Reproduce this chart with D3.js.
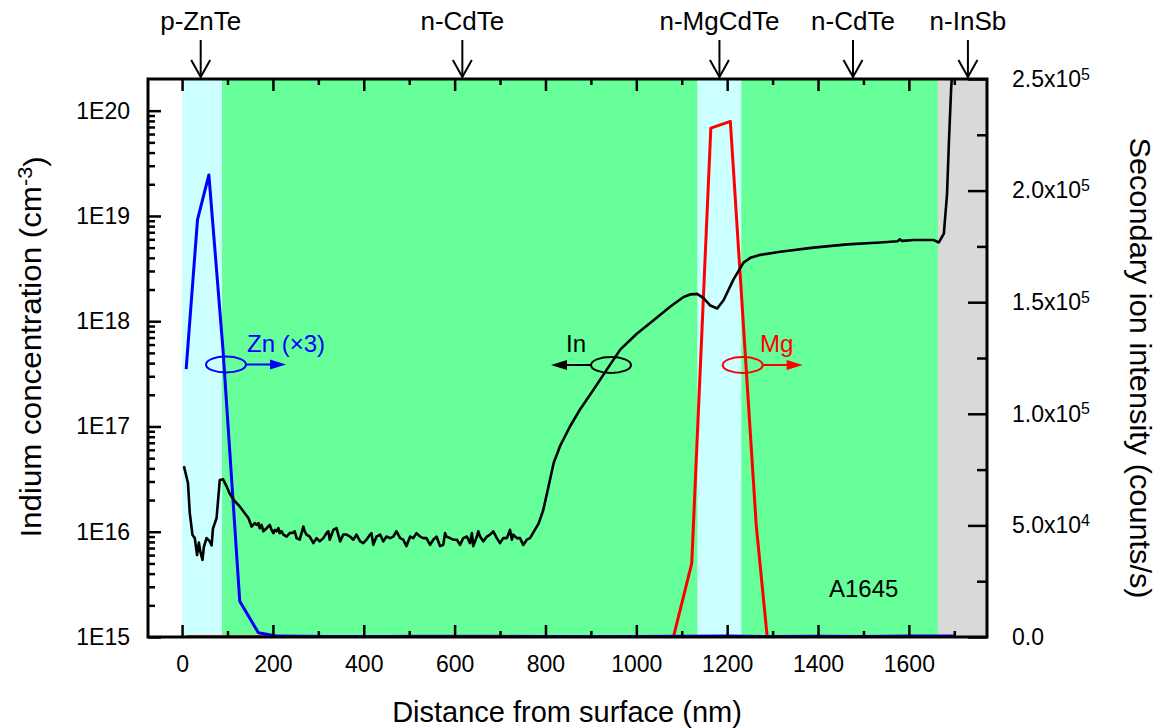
<!DOCTYPE html>
<html>
<head>
<meta charset="utf-8">
<script src="https://cdn.jsdelivr.net/npm/d3@7"></script>
<style>
  body { margin: 0; background: #fff; }
  svg text { font-family: Arial, "Liberation Sans", Helvetica, sans-serif; fill: #000; }
</style>
</head>
<body>
<svg id="chart" width="1156" height="728"></svg>
<script>
// ---- Layer stack (depth in nm) ----
const layerNames  = ["p-ZnTe", "n-CdTe", "n-MgCdTe", "n-CdTe", "n-InSb"];
const layerStart  = [0, 88, 1135, 1231, 1664];
const layerEnd    = [88, 1135, 1231, 1664, 1772];
const layerMarker = [41, 617, 1183, 1477, 1730];
const layerKind   = ["barrier", "well", "barrier", "well", "substrate"];

// ---- Indium concentration (cm^-3), left log axis ----
const inDepth = [4,13,17,23,28,33,37,40,45,48,54,61,65,68,76,83,90,98,105,116,127,138,146,153,
  160,164,168,171,175,179,186,193,197,201,204,208,212,215,219,223,230,237,245,248,252,259,267,270,274,
  281,289,296,303,311,318,322,325,333,340,348,355,362,370,377,384,392,399,406,414,417,421,428,436,443,
  450,458,465,472,480,487,494,502,509,516,524,531,538,546,553,560,568,575,579,582,590,597,605,612,619,
  627,634,638,641,649,652,656,663,671,678,685,693,700,707,715,722,726,729,737,744,751,759,766,
  785,795,806,818,832,854,876,906,935,965,1001,1038,1075,1104,1120,1134,1148,1163,1178,1192,1214,1236,
  1251,1273,1317,1390,1464,1537,1575,1580,1585,1611,1655,1666,1677,1684,1688,1693,1700];
const inConc = [4.2e16,2.9e16,1.5e16,9.3e15,8.7e15,6.0e15,7.9e15,6.5e15,5.4e15,7.2e15,8.7e15,8.1e15,7.4e15,
  1.07e16,1.35e16,3.1e16,3.16e16,2.7e16,2.3e16,1.95e16,1.74e16,1.5e16,1.35e16,1.12e16,
  1.21e16,1.16e16,1.21e16,1.08e16,1.16e16,1.01e16,1.08e16,1.16e16,1.04e16,9.7e15,1.04e16,1.01e16,1.08e16,
  9.7e15,1.01e16,9.4e15,9.0e15,9.7e15,9.8e15,1.01e16,8.7e15,8.4e15,1.12e16,1.01e16,9.4e15,
  9.0e15,7.8e15,8.7e15,8.1e15,8.7e15,9.7e15,1.01e16,8.4e15,1.04e16,1.08e16,8.1e15,9.4e15,9.4e15,9.0e15,
  8.4e15,9.4e15,8.1e15,7.8e15,8.4e15,9.4e15,9.7e15,7.5e15,9.0e15,9.4e15,8.1e15,
  9.0e15,8.7e15,9.0e15,1.01e16,8.7e15,8.4e15,7.3e15,9.0e15,8.7e15,9.7e15,9.0e15,8.7e15,8.7e15,7.5e15,
  8.4e15,9.0e15,7.3e15,7.5e15,9.7e15,9.0e15,8.7e15,8.4e15,8.4e15,7.5e15,8.7e15,
  9.0e15,7.8e15,9.7e15,7.3e15,9.0e15,1.01e16,9.0e15,8.1e15,9.0e15,9.4e15,1.01e16,8.7e15,7.8e15,8.7e15,
  8.7e15,1.04e16,8.4e15,9.4e15,8.7e15,8.7e15,7.5e15,8.4e15,8.7e15,
  1.2e16,1.6e16,2.6e16,4.5e16,6.5e16,1.0e17,1.45e17,2.24e17,3.47e17,5.4e17,7.6e17,1.02e18,1.38e18,
  1.70e18,1.80e18,1.82e18,1.66e18,1.41e18,1.32e18,1.58e18,2.5e18,3.6e18,
  4.0e18,4.27e18,4.57e18,5.0e18,5.37e18,5.6e18,5.75e18,6.0e18,5.8e18,5.9e18,5.9e18,5.6e18,6.8e18,
  1.6e19,4.8e19,1.6e20,5e20];

// ---- Zn (x3) secondary ion intensity (counts/s), right axis ----
const znDepth = [9,34,59,90,127,168,210,260,320,400,500,600,700,800,900,1000,1100,1200,1300,1400,1500,1600,1700];
const znCounts = [1.2e5,1.87e5,2.07e5,1.29e5,1.6e4,1.9e3,400,300,250,200,200,200,150,200,150,250,300,400,200,300,250,500,400];

// ---- Mg secondary ion intensity (counts/s), right axis ----
const mgDepth = [9,100,200,300,400,500,600,700,800,900,1000,1040,1082,1122,1164,1207,1264,1288,1350,1450,1550,1650,1700];
const mgCounts = [100,100,100,100,150,300,350,300,200,150,150,150,300,3.3e4,2.28e5,2.31e5,5.0e4,300,200,150,150,150,150];

// ---- Tick values ----
const xMajorTicks = [0,200,400,600,800,1000,1200,1400,1600];
const xMinorTicks = [100,300,500,700,900,1100,1300,1500,1700];
const leftMajorTicks = [1e15,1e16,1e17,1e18,1e19,1e20];
const rightMajorTicks = [0,5e4,1e5,1.5e5,2e5,2.5e5];
const rightMinorTicks = [2.5e4,7.5e4,1.25e5,1.75e5,2.25e5];

// ---- Layout ----
const L = 148, R = 987, T = 79, B = 637;
const svg = d3.select("#chart");

const x = d3.scaleLinear().domain([-75, 1772]).range([L, R]);
const yL = d3.scaleLog().domain([1e15, 2e20]).range([B, T]);
const yR = d3.scaleLinear().domain([0, 2.5e5]).range([B, T]);

const bandFill = { barrier: "#ccffff", well: "#66ff99", substrate: "#d9d9d9" };

svg.append("defs").append("clipPath").attr("id", "plotClip")
  .append("rect").attr("x", L).attr("y", T).attr("width", R - L).attr("height", B - T);

// Layer shading
svg.append("g").selectAll("rect").data(layerNames.map((n, i) => i)).join("rect")
  .attr("x", i => x(layerStart[i]))
  .attr("y", T)
  .attr("width", i => x(layerEnd[i]) - x(layerStart[i]))
  .attr("height", B - T)
  .attr("fill", i => bandFill[layerKind[i]]);

// Series
const plot = svg.append("g").attr("clip-path", "url(#plotClip)");
const lineR = d3.line().x(d => x(d[0])).y(d => yR(d[1]));
plot.append("path").datum(mgDepth.map((d, i) => [d, mgCounts[i]]))
  .attr("d", lineR).attr("fill", "none").attr("stroke", "#ff0000").attr("stroke-width", 3).attr("stroke-linejoin", "round");
plot.append("path").datum(znDepth.map((d, i) => [d, znCounts[i]]))
  .attr("d", lineR).attr("fill", "none").attr("stroke", "#0000ff").attr("stroke-width", 3).attr("stroke-linejoin", "round");
const lineL = d3.line().x(d => x(d[0])).y(d => yL(d[1]));
plot.append("path").datum(inDepth.map((d, i) => [d, inConc[i]]))
  .attr("d", lineL).attr("fill", "none").attr("stroke", "#000").attr("stroke-width", 2.6).attr("stroke-linejoin", "round");

// Axes
const tickFont = "23px";
function styleAxis(g, width) {
  g.select(".domain").remove();
  g.selectAll(".tick line").attr("stroke", "#000").attr("stroke-width", width);
  g.selectAll(".tick text").style("font-size", tickFont).attr("fill", "#000");
}
const gxB = svg.append("g").attr("transform", `translate(0,${B})`)
  .call(d3.axisBottom(x).tickValues(xMajorTicks).tickSize(-12).tickPadding(19).tickFormat(d3.format("d")));
styleAxis(gxB, 2.5);
svg.append("g").attr("transform", `translate(0,${B})`)
  .call(d3.axisBottom(x).tickValues(xMinorTicks).tickSize(-6).tickFormat("")).call(g => styleAxis(g, 2.5));
svg.append("g").attr("transform", `translate(0,${T})`)
  .call(d3.axisTop(x).tickValues(xMajorTicks).tickSize(-12).tickFormat("")).call(g => styleAxis(g, 2.5));
svg.append("g").attr("transform", `translate(0,${T})`)
  .call(d3.axisTop(x).tickValues(xMinorTicks).tickSize(-6).tickFormat("")).call(g => styleAxis(g, 2.5));

const leftMinor = [];
for (let e = 15; e <= 20; e++) for (let m = 2; m <= 9; m++) { const v = m * Math.pow(10, e); if (v < 2e20) leftMinor.push(v); }
const gyL = svg.append("g").attr("transform", `translate(${L},0)`)
  .call(d3.axisLeft(yL).tickValues(leftMajorTicks).tickSize(-13).tickPadding(18)
    .tickFormat(d => "1E" + Math.round(Math.log10(d))));
styleAxis(gyL, 2.5);
svg.append("g").attr("transform", `translate(${L},0)`)
  .call(d3.axisLeft(yL).tickValues(leftMinor).tickSize(-7).tickFormat("")).call(g => styleAxis(g, 2.5));

const gyR = svg.append("g").attr("transform", `translate(${R},0)`)
  .call(d3.axisRight(yR).tickValues(rightMajorTicks).tickSize(-19).tickPadding(25).tickFormat(""));
styleAxis(gyR, 2.5);
gyR.selectAll(".tick text").each(function (d) {
  const t = d3.select(this);
  if (d === 0) { t.text("0.0"); return; }
  const e = Math.floor(Math.log10(d) + 1e-9);
  const m = d / Math.pow(10, e);
  t.append("tspan").text(m.toFixed(1) + "x10");
  t.append("tspan").attr("dy", "-0.45em").style("font-size", "16px").text(e);
});
svg.append("g").attr("transform", `translate(${R},0)`)
  .call(d3.axisRight(yR).tickValues(rightMinorTicks).tickSize(-10).tickFormat("")).call(g => styleAxis(g, 2.5));

// Frame
svg.append("rect").attr("x", L).attr("y", T).attr("width", R - L).attr("height", B - T)
  .attr("fill", "none").attr("stroke", "#000").attr("stroke-width", 3);

// Layer labels with arrows above the frame
const layerLabels = svg.append("g");
layerNames.forEach((name, i) => {
  const px = x(layerMarker[i]);
  layerLabels.append("text").attr("x", px).attr("y", 30).attr("text-anchor", "middle").style("font-size", "26px").text(name);
  layerLabels.append("line").attr("x1", px).attr("x2", px).attr("y1", 40).attr("y2", 77).attr("stroke", "#000").attr("stroke-width", 2);
  layerLabels.append("path").attr("d", `M${px - 9.5},60 L${px},77 L${px + 9.5},60`).attr("fill", "none").attr("stroke", "#000").attr("stroke-width", 2);
});

// Series keys: ellipse around the curve plus arrow to its axis
function seriesKey(cx, cy, dir, color, label, labelX) {
  const g = svg.append("g");
  g.append("ellipse").attr("cx", cx).attr("cy", cy).attr("rx", 20).attr("ry", 8)
    .attr("fill", "none").attr("stroke", color).attr("stroke-width", 2);
  const x0 = cx + dir * 20, tip = cx + dir * 60;
  g.append("line").attr("x1", x0).attr("x2", tip - dir * 14).attr("y1", cy).attr("y2", cy)
    .attr("stroke", color).attr("stroke-width", 2);
  g.append("path").attr("d", `M${tip},${cy} L${tip - dir * 16},${cy - 5} L${tip - dir * 16},${cy + 5} Z`).attr("fill", color);
  g.append("text").attr("x", labelX).attr("y", 352).style("font-size", "24px").style("fill", color).text(label);
}
seriesKey(226, 364.5, 1, "#0000ff", "Zn (\u00d73)", 247);
seriesKey(611, 365, -1, "#000000", "In", 566);
seriesKey(742.7, 365, 1, "#ff0000", "Mg", 760);

// Sample id
svg.append("text").attr("x", 829).attr("y", 597).style("font-size", "24px").text("A1645");

// Axis titles
svg.append("text").attr("x", 567).attr("y", 722).attr("text-anchor", "middle").style("font-size", "29px")
  .text("Distance from surface (nm)");
const lt = svg.append("text").attr("transform", "translate(41,347) rotate(-90) scale(1.08,1)").attr("text-anchor", "middle").style("font-size", "29px");
lt.append("tspan").text("Indium concentration (cm");
lt.append("tspan").attr("dy", "-0.45em").style("font-size", "20px").text("-3");
lt.append("tspan").attr("dy", "0.45em").text(")");
svg.append("text").attr("transform", "translate(1130,368) rotate(90) scale(1.06,1)").attr("text-anchor", "middle").style("font-size", "29px")
  .text("Secondary ion intensity (counts/s)");
</script>
</body>
</html>
